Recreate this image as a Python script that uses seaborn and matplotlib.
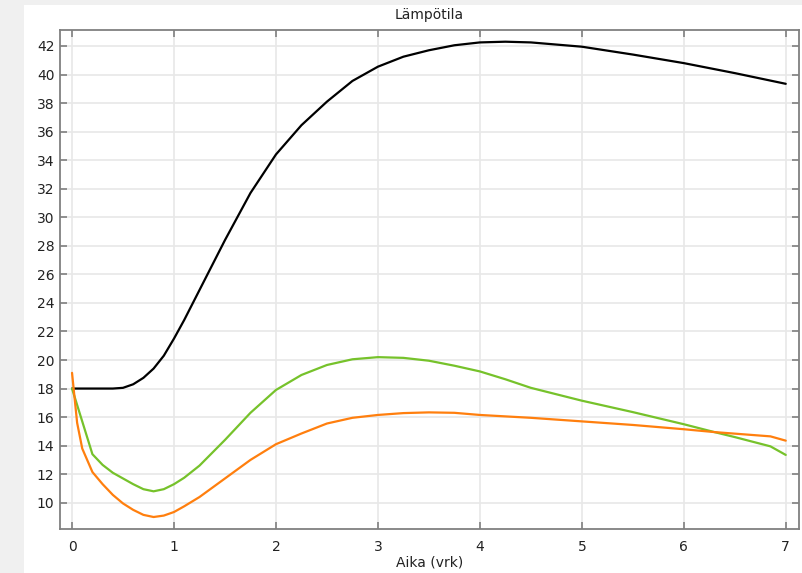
import matplotlib
matplotlib.use("Agg")
import matplotlib.pyplot as plt
import matplotlib.patches as mpatches
import seaborn as sns
import pandas as pd

# ---- data ----
t_black = [0, 0.2, 0.4, 0.5, 0.6, 0.7, 0.8, 0.9, 1.0, 1.1, 1.25, 1.5, 1.75, 2.0, 2.25, 2.5,
           2.75, 3.0, 3.25, 3.5, 3.75, 4.0, 4.25, 4.5, 5.0, 5.5, 6.0, 6.5, 7.0]
v_black = [18.0, 18.0, 18.0, 18.05, 18.3, 18.75, 19.4, 20.3, 21.5, 22.8, 24.9, 28.4, 31.7,
           34.4, 36.45, 38.1, 39.55, 40.55, 41.25, 41.7, 42.05, 42.25, 42.3, 42.25, 41.95,
           41.4, 40.8, 40.1, 39.35]

t_green = [0, 0.2, 0.3, 0.4, 0.5, 0.6, 0.7, 0.8, 0.9, 1.0, 1.1, 1.25, 1.5, 1.75, 2.0, 2.25,
           2.5, 2.75, 3.0, 3.25, 3.5, 3.75, 4.0, 4.25, 4.5, 5.0, 5.5, 6.0, 6.3, 6.5, 6.85, 7.0]
v_green = [18.0, 13.4, 12.65, 12.1, 11.7, 11.3, 10.95, 10.8, 10.95, 11.3, 11.75, 12.6, 14.4,
           16.3, 17.9, 18.95, 19.65, 20.05, 20.2, 20.15, 19.95, 19.6, 19.2, 18.65, 18.05,
           17.15, 16.35, 15.5, 14.95, 14.6, 13.95, 13.35]

t_orange = [0, 0.05, 0.1, 0.2, 0.3, 0.4, 0.5, 0.6, 0.7, 0.8, 0.9, 1.0, 1.1, 1.25, 1.5, 1.75,
            2.0, 2.25, 2.5, 2.75, 3.0, 3.25, 3.5, 3.75, 4.0, 4.5, 5.0, 5.5, 6.0, 6.3, 6.85, 7.0]
v_orange = [19.1, 15.6, 13.8, 12.15, 11.3, 10.55, 9.95, 9.5, 9.15, 9.0, 9.1, 9.35, 9.75, 10.4,
            11.7, 13.0, 14.1, 14.85, 15.55, 15.95, 16.15, 16.28, 16.33, 16.3, 16.15, 15.95,
            15.7, 15.45, 15.15, 14.95, 14.65, 14.35]

series_colors = {"black": "#000000", "green": "#76c22b", "orange": "#ff7f0e"}

x_ticks = [0, 1, 2, 3, 4, 5, 6, 7]
y_ticks = list(range(10, 43, 2))

title = "Lämpötila"
xlabel = "Aika (vrk)"

# ---- figure ----
sns.set_theme(style="white")
plt.rcParams["font.family"] = ["DejaVu Sans"]

fig = plt.figure(figsize=(8.02, 5.73), dpi=100)
fig.patch.set_facecolor("#f0f0f0")
fig.patches.append(mpatches.Rectangle((24 / 802, 0), 1 - 24 / 802, (573 - 5) / 573,
                                      transform=fig.transFigure, facecolor="white",
                                      edgecolor="none", zorder=-10))

ax = fig.add_axes([60 / 802, 1 - 529 / 573, (799 - 60) / 802, (529 - 30) / 573])
ax.set_zorder(1)
ax.set_facecolor("white")

df = pd.concat([
    pd.DataFrame({"t": t_black, "v": v_black, "s": "black"}),
    pd.DataFrame({"t": t_green, "v": v_green, "s": "green"}),
    pd.DataFrame({"t": t_orange, "v": v_orange, "s": "orange"}),
], ignore_index=True)

sns.lineplot(data=df, x="t", y="v", hue="s", palette=series_colors, estimator=None,
             linewidth=1.6, legend=False, ax=ax)

ax.set_xlim(-0.118, 7.13)
ax.set_ylim(8.16, 43.12)
ax.set_xticks(x_ticks)
ax.set_yticks(y_ticks)
ax.set_xticklabels([str(v) for v in x_ticks])
ax.set_yticklabels([str(v) for v in y_ticks])

ax.grid(True, color="#e8e8e8", linewidth=1.2)
ax.set_axisbelow(True)
for sp in ax.spines.values():
    sp.set_visible(True)
    sp.set_color("#808080")
    sp.set_linewidth(1.3)

ax.tick_params(axis="both", which="major", direction="in", length=5, width=1.2,
               color="#808080", labelsize=10, labelcolor="#222222",
               top=True, right=True, bottom=True, left=True)
ax.tick_params(axis="x", pad=8)
ax.tick_params(axis="y", pad=4)

ax.set_title(title, fontsize=10, color="#222222", pad=8)
ax.set_xlabel(xlabel, fontsize=10, color="#222222", labelpad=1)
ax.set_ylabel("")

fig.savefig("out.png", dpi=100, facecolor=fig.get_facecolor())
